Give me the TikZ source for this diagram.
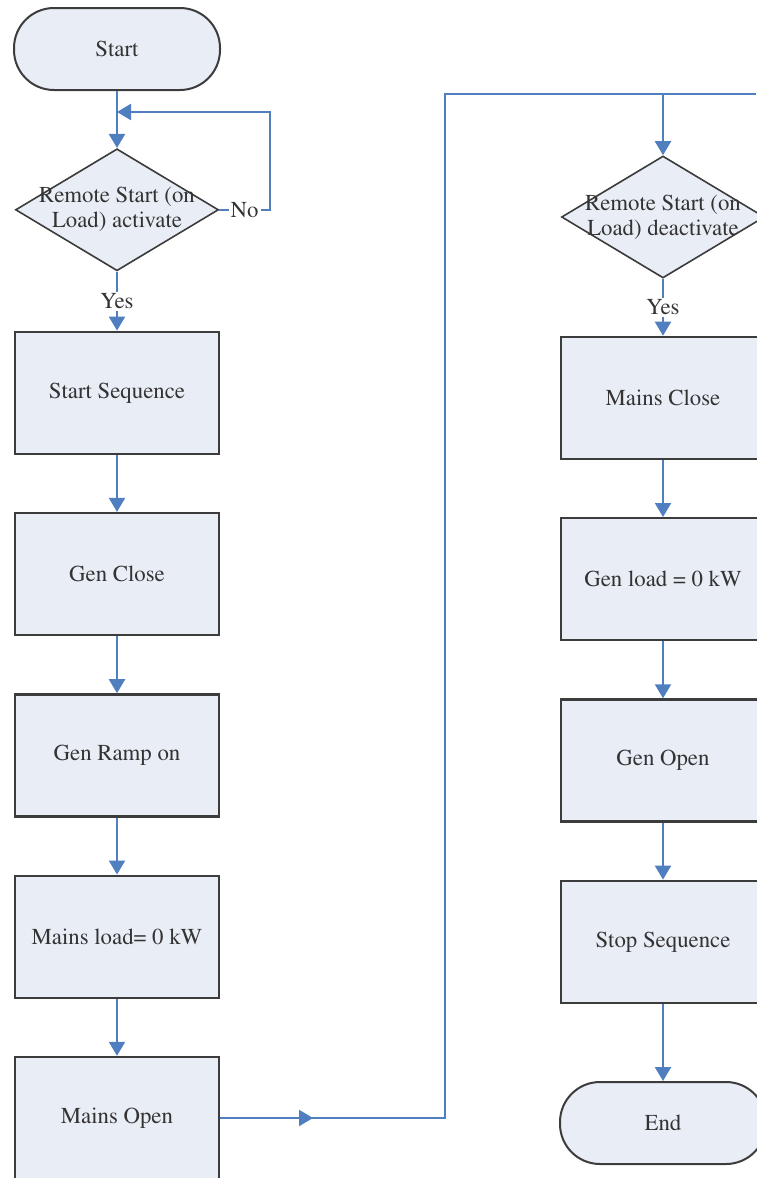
\documentclass[tikz,border=0pt]{standalone}
\usepackage[T1]{fontenc}
\usepackage{times}
\usepackage{xcolor}
\usetikzlibrary{shapes.geometric, arrows.meta, positioning}
\definecolor{boxfill}{HTML}{E8EDF6}
\definecolor{boxline}{HTML}{3C3C3C}
\definecolor{flow}{HTML}{4F7FBF}
\definecolor{txt}{HTML}{333333}
\tikzstyle{startstop} = [draw=boxline, fill=boxfill, rectangle, rounded corners=20pt, minimum width=103pt, minimum height=41pt, line width=1pt, text=txt, align=center]
\tikzstyle{decision} = [draw=boxline, fill=boxfill, diamond, minimum width=101.5pt, minimum height=61pt, inner sep=0pt, line width=0.8pt]
\tikzstyle{process} = [draw=boxline, fill=boxfill, rectangle, minimum width=102pt, minimum height=61pt, line width=1.2pt, text=txt, align=center]
\tikzstyle{line} = [draw=flow, line width=1.1pt]
\tikzstyle{arrow} = [line, -{Triangle[length=7pt,width=8pt]}]
\tikzstyle{lbl} = [fill=white, inner sep=1pt, text=txt]
\begin{document}
\begin{tikzpicture}[x=0.5pt, y=-0.5pt, node distance=28.45pt, font=\rmfamily\fontsize{11.4}{12.5}\selectfont]
    \useasboundingbox (0,0) rectangle (756,1178);
    % left column
    \node (start) [startstop] at (117,49) {Start};
    \node (act) [decision, below=28.5pt of start, label={[text=txt, align=center]center:Remote Start (on\\Load) activate}] {};
    \node (seqstart) [process, below=29.5pt of act] {Start Sequence};
    \node (genclose) [process, below=of seqstart] {Gen Close};
    \node (ramp) [process, below=of genclose] {Gen Ramp on};
    \node (mainsload) [process, below=of ramp] {Mains load= 0 kW};
    \node (mainsopen) [process, below=of mainsload] {Mains Open};
    % right column
    \node (deact) [decision, label={[text=txt, align=center]center:Remote Start (on\\Load) deactivate}] at (663,217) {};
    \node (mainsclose) [process, below=of deact] {Mains Close};
    \node (genload) [process, below=of mainsclose] {Gen load = 0 kW};
    \node (genopen) [process, below=of genload] {Gen Open};
    \node (seqstop) [process, below=of genopen] {Stop Sequence};
    \node (end) [startstop, below=38.5pt of seqstop] {End};
    % helper points
    \coordinate (loop) at (270,112);
    \coordinate (up) at (445,94);
    \coordinate (edge) at (756,94);
    \coordinate (mid) at (313,0);
    \draw [arrow] (start) -- (act);
    \draw [arrow] (act.east) -- node[lbl] {No} (act.east -| loop) |- (loop -| start);
    \draw [arrow] (act) -- node[lbl] {Yes} (seqstart);
    \draw [arrow] (seqstart) -- (genclose);
    \draw [arrow] (genclose) -- (ramp);
    \draw [arrow] (ramp) -- (mainsload);
    \draw [arrow] (mainsload) -- (mainsopen);
    \draw [line] (mainsopen.east) -| (up) -- (edge);
    \draw [arrow] (mainsopen.east) -- (mainsopen.east -| mid);
    \draw [arrow] (deact.north |- up) -- (deact);
    \draw [arrow] (deact) -- node[lbl] {Yes} (mainsclose);
    \draw [arrow] (mainsclose) -- (genload);
    \draw [arrow] (genload) -- (genopen);
    \draw [arrow] (genopen) -- (seqstop);
    \draw [arrow] (seqstop) -- (end);
\end{tikzpicture}
\end{document}
